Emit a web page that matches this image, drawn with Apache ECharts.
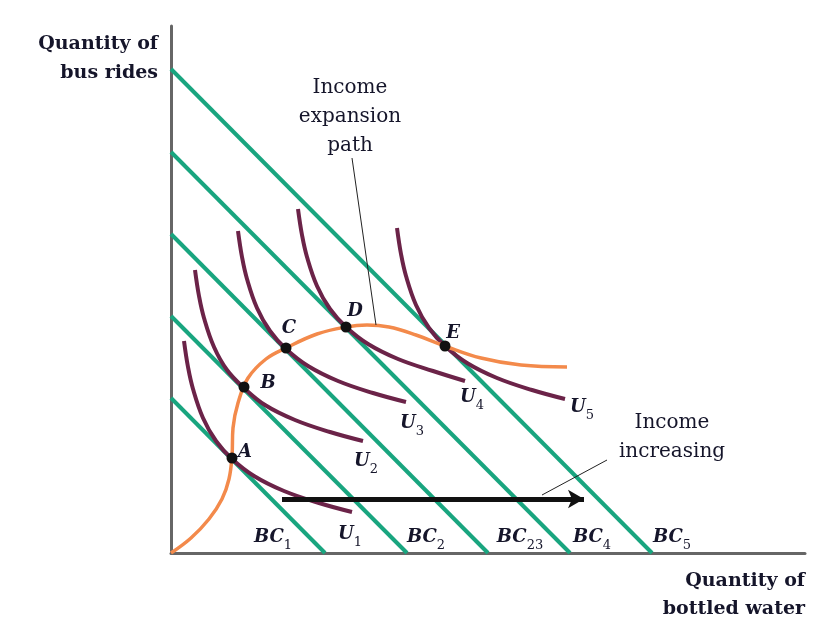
<!DOCTYPE html>
<html>
<head>
<meta charset="utf-8">
<script src="https://cdn.jsdelivr.net/npm/echarts@6/dist/echarts.min.js"></script>
<style>
html, body { margin: 0; padding: 0; background: #fff; }
#chart { width: 819px; height: 634px; }
</style>
</head>
<body>
<div id="chart"></div>
<script>
// budget constraints, intercepts on each axis
const bcNames = ['BC1', 'BC2', 'BC23', 'BC4', 'BC5']
const bcYIntercept = [155, 237, 319, 401, 484]
const bcXIntercept = [154, 236, 317, 399, 481]

// indifference curves U1..U5
const u1 = [[13, 212], [17, 186], [22, 164], [32, 135], [45, 112], [61, 94], [83, 77], [113, 62], [148, 50], [181, 41]]
const u2 = [[24, 283], [28, 257], [33, 235], [43, 206], [56, 183], [73, 165], [94, 148], [124, 133], [159, 121], [192, 112]]
const u3 = [[67, 322], [71, 296], [76, 274], [86, 245], [99, 222], [115, 204], [137, 187], [167, 172], [202, 160], [235, 151]]
const u4 = [[127, 344], [131, 318], [136, 296], [146, 267], [159, 244], [175, 226], [197, 209], [227, 194], [262, 182], [294, 172]]
const u5 = [[226, 325], [230, 299], [235, 277], [245, 248], [258, 225], [274, 207], [296, 190], [326, 175], [361, 163], [394, 154]]
const curves = [u1, u2, u3, u4, u5]

// income expansion path
const expansionPath = [[0, 0], [20, 15], [38, 34], [51, 54], [58, 74], [61, 97], [62, 125], [67, 150], [77, 175],
  [95, 194], [115, 205], [146, 219], [175, 226], [196, 228], [218, 226], [245, 218], [274, 207], [310, 195],
  [350, 188], [396, 186]]

// optimal bundles
const pointNames = ['A', 'B', 'C', 'D', 'E']
const pointCoords = [[61, 95], [73, 166], [115, 205], [175, 226], [274, 207]]

// text annotations (data coords)
const labelTexts = ['A', 'B', 'C', 'D', 'E', 'U1', 'U2', 'U3', 'U4', 'U5', 'BC1', 'BC2', 'BC23', 'BC4', 'BC5']
const labelCoords = [[74, 101], [97, 170], [118, 225], [184, 242], [282, 220],
  [179, 16], [195, 89], [241, 127], [301, 153], [411, 143],
  [102, 13], [255, 13], [349, 13], [421, 13], [501, 13]]
const noteTexts = ['Income\nexpansion\npath', 'Income\nincreasing']
const noteCoords = [[179, 436], [501, 116]]
const pathLeader = [[181, 395], [205, 228]]
const incomeLeader = [[436, 93], [371, 58]]
const incomeArrow = [[111, 54], [413, 54]]

const GREEN = '#19a57f'
const PURPLE = '#6b2348'
const ORANGE = '#f38a4b'
const INK = '#15152a'
const SERIF = 'DejaVu Serif'

const chart = echarts.init(document.getElementById('chart'))

const series = []
bcNames.forEach((n, i) => {
  series.push({
    name: n, type: 'line', symbol: 'none', silent: true, z: 2,
    data: [[0, bcYIntercept[i]], [bcXIntercept[i], 0]],
    lineStyle: { color: GREEN, width: 4 }
  })
})
curves.forEach((c, i) => {
  series.push({
    name: 'U' + (i + 1), type: 'line', symbol: 'none', smooth: 0.4, silent: true, z: 3,
    data: c,
    lineStyle: { color: PURPLE, width: 4 }
  })
})
series.push({
  name: 'path', type: 'line', symbol: 'none', smooth: 0.4, silent: true, z: 4,
  data: expansionPath,
  lineStyle: { color: ORANGE, width: 3.5 }
})
series.push({
  type: 'line', symbol: 'none', silent: true, data: pathLeader, z: 4,
  lineStyle: { color: '#222', width: 1 }
})
series.push({
  type: 'line', symbol: 'none', silent: true, data: incomeLeader, z: 4,
  lineStyle: { color: '#222', width: 1 },
  markLine: {
    silent: true, animation: false,
    symbol: ['none', 'arrow'], symbolSize: [14, 16],
    label: { show: false },
    lineStyle: { color: '#111', width: 5, type: 'solid', opacity: 1 },
    data: [[{ coord: incomeArrow[0] }, { coord: incomeArrow[1] }]]
  }
})
series.push({
  type: 'scatter', silent: true, symbolSize: 11, z: 10,
  itemStyle: { color: '#111', opacity: 1 },
  data: pointCoords.map((c, i) => ({ name: pointNames[i], value: c }))
})

const sub = t => t.replace(/^([A-Za-z]+)(\d+)$/, '{i|$1}{s|$2}')
series.push({
  type: 'scatter', silent: true, symbolSize: 0, clip: false, z: 11,
  itemStyle: { opacity: 1 },
  data: labelTexts.map((t, i) => ({ name: t, value: labelCoords[i] })),
  label: {
    show: true, position: 'inside', color: INK,
    formatter: p => (p.name.length > 1 ? sub(p.name) : '{p|' + p.name + '}'),
    rich: {
      p: { fontFamily: SERIF, fontStyle: 'italic', fontWeight: 'bold', fontSize: 18, color: INK },
      i: { fontFamily: SERIF, fontStyle: 'italic', fontWeight: 'bold', fontSize: 18, color: INK, verticalAlign: 'top' },
      s: { fontFamily: SERIF, fontSize: 13, color: INK, verticalAlign: 'top', padding: [11, 0, 0, 0] }
    }
  }
})
series.push({
  type: 'scatter', silent: true, symbolSize: 0, clip: false, z: 11,
  itemStyle: { opacity: 1 },
  data: noteTexts.map((t, i) => ({ name: t, value: noteCoords[i] })),
  label: {
    show: true, position: 'inside', formatter: p => p.name,
    fontFamily: SERIF, fontSize: 20, lineHeight: 29, color: INK, align: 'center'
  }
})

const option = {
  animation: false,
  backgroundColor: '#fff',
  grid: { left: 171, right: 14, top: 26, bottom: 81 },
  xAxis: {
    type: 'value', min: 0, max: 634,
    name: 'Quantity of\nbottled water', nameLocation: 'end', nameGap: 0,
    nameTextStyle: {
      fontFamily: SERIF, fontWeight: 'bold', fontSize: 19, color: INK,
      align: 'right', verticalAlign: 'top', lineHeight: 28, padding: [14, 0, 0, 0]
    },
    axisLine: { show: true, lineStyle: { color: '#666', width: 3 } },
    axisTick: { show: false }, axisLabel: { show: false }, splitLine: { show: false }
  },
  yAxis: {
    type: 'value', min: 0, max: 527,
    name: 'Quantity of\nbus rides', nameLocation: 'end', nameGap: -4,
    nameTextStyle: {
      fontFamily: SERIF, fontWeight: 'bold', fontSize: 19, color: INK,
      align: 'right', verticalAlign: 'top', lineHeight: 29, padding: [0, 13, 0, 0]
    },
    axisLine: { show: true, lineStyle: { color: '#666', width: 3 } },
    axisTick: { show: false }, axisLabel: { show: false }, splitLine: { show: false }
  },
  series: series
}
chart.setOption(option)
</script>
</body>
</html>
